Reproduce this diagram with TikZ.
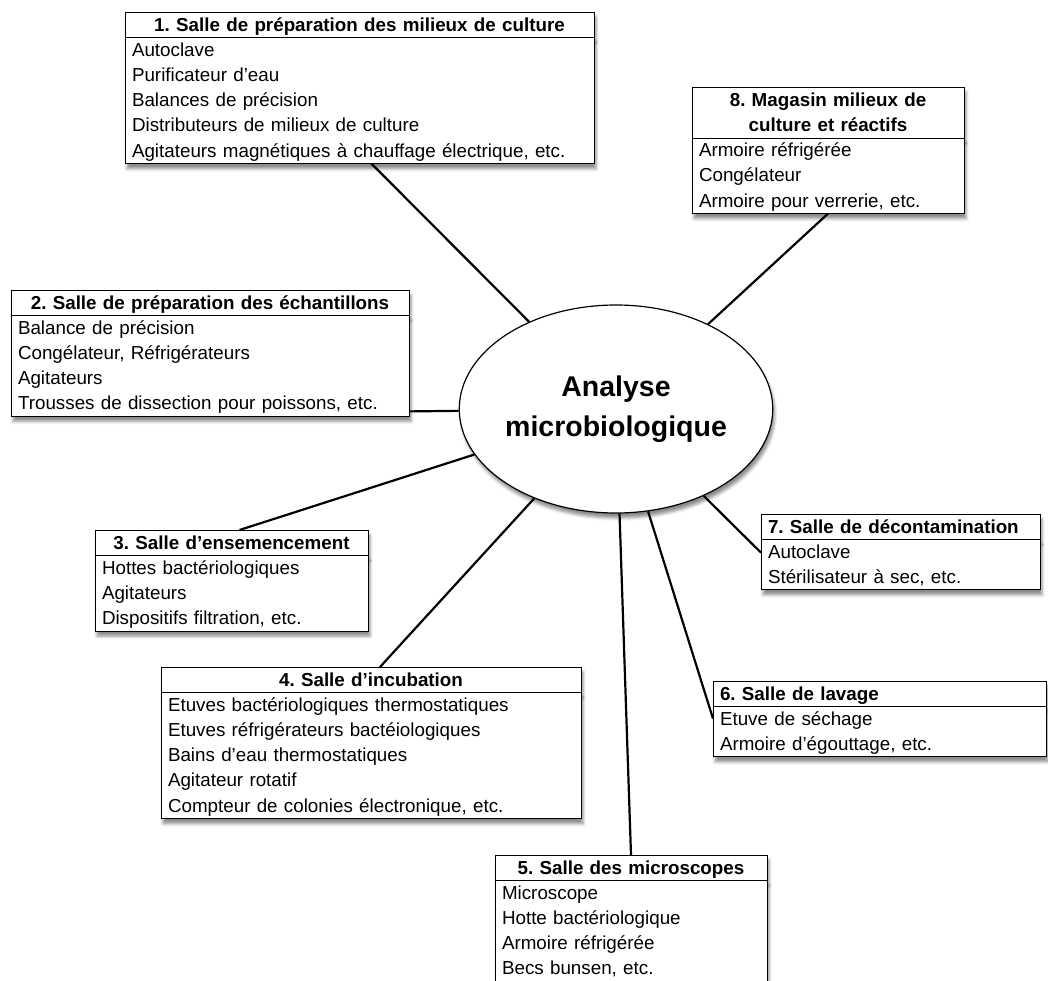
\documentclass[tikz,border=0pt]{standalone}
\usepackage{fontspec}
\setmainfont{Liberation Sans}
\usetikzlibrary{positioning,shapes.geometric,shadows.blur}

\tikzset{
  boxshadow/.style={blur shadow={shadow xshift=2pt,shadow yshift=-5pt,shadow blur radius=3pt,shadow opacity=45}},
  roomtitle/.style={draw,fill=white,line width=1pt,outer sep=0pt,inner xsep=7pt,inner ysep=0pt,
    align=center,font=\fontsize{18.8}{25.5}\selectfont\bfseries,boxshadow,
    execute at begin node={\rule{0pt}{19pt}},execute at end node={\rule[-6.5pt]{0pt}{0pt}}},
  roomlist/.style={draw,fill=white,line width=1pt,outer sep=0pt,inner xsep=7pt,inner ysep=0pt,
    align=left,font=\fontsize{18.8}{25.3}\selectfont,boxshadow,
    execute at begin node={\rule{0pt}{18.5pt}},execute at end node={\rule[-6.5pt]{0pt}{0pt}}},
  hub/.style={ellipse,draw,fill=white,line width=1.2pt,minimum width=312pt,minimum height=208pt,
    inner sep=0pt,align=center,font=\fontsize{28.5}{40}\selectfont\bfseries,boxshadow},
  link/.style={line width=2.2pt}
}

\begin{document}
\frenchspacing
\begin{tikzpicture}[x=1pt,y=-1pt]
  \useasboundingbox (0,0) rectangle (1048,980);
  % centre
  \node[hub] (c) at (616,409) {Analyse\\microbiologique};
  % room 1
  \node[roomtitle,text width=455pt,anchor=north west] (t1) at (125,12) {1. Salle de préparation des milieux de culture};
  \node[roomlist,text width=455pt,below=0pt of t1] (l1) {Autoclave\\Purificateur d’eau\\Balances de précision\\Distributeurs de milieux de culture\\Agitateurs magnétiques à chauffage électrique, etc.};
  % room 8
  \node[roomtitle,text width=258pt,anchor=north west] (t8) at (692,87) {8. Magasin milieux de\\culture et réactifs};
  \node[roomlist,text width=258pt,below=0pt of t8] (l8) {Armoire réfrigérée\\Congélateur\\Armoire pour verrerie, etc.};
  % room 2
  \node[roomtitle,text width=384pt,anchor=north west] (t2) at (11,290) {2. Salle de préparation des échantillons};
  \node[roomlist,text width=384pt,below=0pt of t2] (l2) {Balance de précision\\Congélateur, Réfrigérateurs\\Agitateurs\\Trousses de dissection pour poissons, etc.};
  % room 3
  \node[roomtitle,text width=259pt,anchor=north west] (t3) at (95,530) {3. Salle d’ensemencement};
  \node[roomlist,text width=259pt,below=0pt of t3] (l3) {Hottes bactériologiques\\Agitateurs\\Dispositifs filtration, etc.};
  % room 4
  \node[roomtitle,text width=406pt,anchor=north west] (t4) at (161,667) {4. Salle d’incubation};
  \node[roomlist,text width=406pt,below=0pt of t4] (l4) {Etuves bactériologiques thermostatiques\\Etuves réfrigérateurs bactéiologiques\\Bains d’eau thermostatiques\\Agitateur rotatif\\Compteur de colonies électronique, etc.};
  % room 5
  \node[roomtitle,text width=258pt,anchor=north west] (t5) at (495,855) {5. Salle des microscopes};
  \node[roomlist,text width=258pt,below=0pt of t5] (l5) {Microscope\\Hotte bactériologique\\Armoire réfrigérée\\Becs bunsen, etc.};
  % room 6
  \node[roomtitle,text width=319pt,anchor=north west,align=left] (t6) at (713,681) {6. Salle de lavage};
  \node[roomlist,text width=319pt,below=0pt of t6] (l6) {Etuve de séchage\\Armoire d’égouttage, etc.};
  % room 7
  \node[roomtitle,text width=265pt,anchor=north west,align=left] (t7) at (761,514) {7. Salle de décontamination};
  \node[roomlist,text width=265pt,below=0pt of t7] (l7) {Autoclave\\Stérilisateur à sec, etc.};
  % links
  \draw[link] ([xshift=12pt]l1.south) -- (c);
  \draw[link] (l8.south) -- (c);
  \draw[link] ([yshift=5pt]l2.south east) -- (c);
  \draw[link] ([xshift=8pt]t3.north) -- (c);
  \draw[link] ([xshift=9pt]t4.north) -- (c);
  \draw[link] (t5.north) -- (c);
  \draw[link] ([yshift=13pt]l6.west) -- (c);
  \draw[link] ([yshift=12pt]l7.west) -- (c);
\end{tikzpicture}
\end{document}
